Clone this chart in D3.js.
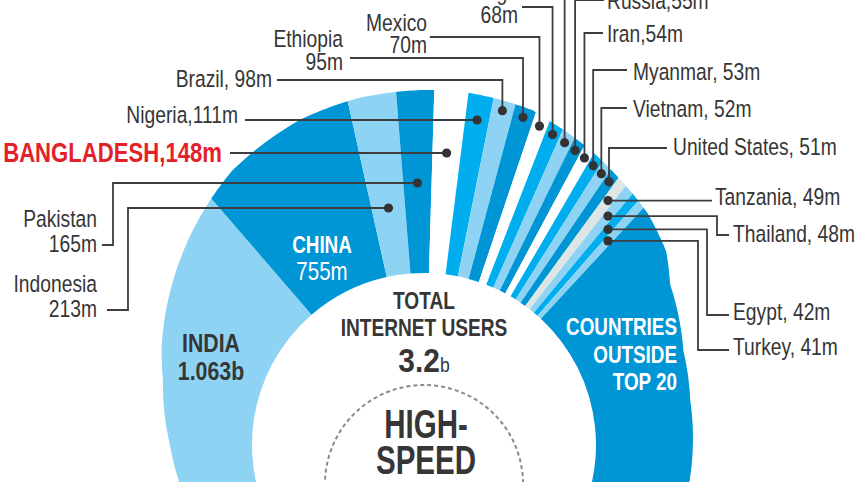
<!DOCTYPE html>
<html>
<head>
<meta charset="utf-8">
<script src="https://cdn.jsdelivr.net/npm/d3@7"></script>
<style>
  body { margin: 0; background: #fff; }
  svg { display: block; }
  text { font-family: "Liberation Sans", Arial, sans-serif; }
</style>
</head>
<body>
<script>
// offline population of the top 20 countries (millions), in ring order
var countries = ["India", "China", "Indonesia", "Pakistan", "Bangladesh", "Nigeria", "Brazil", "Ethiopia",
  "Mexico", "Congo", "Philippines", "Russia", "Iran", "Myanmar", "Vietnam", "United States",
  "Tanzania", "Thailand", "Egypt", "Turkey"];
var offline = [1063, 755, 213, 165, 148, 111, 98, 95, 70, 68, 63, 55, 54, 53, 52, 51, 49, 48, 42, 41];

// label text for each country (one entry per text line)
var labelLines = [["INDIA", "1.063b"], ["CHINA", "755m"], ["Indonesia", "213m"], ["Pakistan", "165m"],
  ["BANGLADESH,148m"], ["Nigeria,111m"], ["Brazil, 98m"], ["Ethiopia", "95m"], ["Mexico", "70m"],
  ["Congo", "68m"], ["Philippines, 63m"], ["Russia,55m"], ["Iran,54m"], ["Myanmar, 53m"], ["Vietnam, 52m"],
  ["United States, 51m"], ["Tanzania, 49m"], ["Thailand, 48m"], ["Egypt, 42m"], ["Turkey, 41m"]];
var outsideLines = ["COUNTRIES", "OUTSIDE", "TOP 20"];
var centreLines = ["TOTAL", "INTERNET USERS"];
var totalUsers = "3.2", totalUnit = "b";
var speedLines = ["HIGH-", "SPEED", "INTERNET"];

// colours
var light = "#8fd3f4", dark = "#0096d6", bright = "#00aeef", grey = "#dde6e5";
var sliceColors = [light, dark, light, dark, "#ffffff", bright, light, dark, "#ffffff", bright,
  light, dark, "#ffffff", bright, light, dark, grey, light, bright, light];
var outsideColor = dark;

// geometry
var W = 857, H = 482;
var cx = 424, cy = 445, r0 = 172;
var deg = Math.PI / 180;
var narrow = 0.82;   // condensed look from a normal-width font

// outer edge of the ring is not a circle: radius by angle (degrees)
var outlineDeg = [-130, -98, -90, -76, -69.5, -56.7, -43.7, -34.8, -20.9, -10.9, 0, 7.4, 17.9, 20.7, 30, 36.5, 44, 51.4, 56.8, 70, 80.4, 97.5, 130];
var outlineR   = [235, 248, 254, 269, 280, 300, 321, 335, 348, 353, 355, 355, 352, 348, 338, 330, 322, 310, 294, 276, 270, 268, 262];
var rOuter = d3.scaleLinear().domain(outlineDeg).range(outlineR).clamp(true);

// leader lines: dot found on a row (y), a column (x) or just inside the rim (r),
// then alternating horizontal / vertical runs
var leaders = [
  null, null,
  {dot: "y", at: 208, turns: [128, 310, 107], tx: 97, ty: [292, 317], anchor: "end"},
  {dot: "y", at: 183, turns: [113, 245, 102], tx: 97, ty: [227, 252], anchor: "end"},
  {dot: "y", at: 153, turns: [230], tx: 222, ty: [162], anchor: "end", hl: true},
  {dot: "y", at: 120, turns: [245], tx: 238, ty: [123], anchor: "end"},
  {dot: "r", turns: [80, 277], tx: 272, ty: [87], anchor: "end"},
  {dot: "r", turns: [58, 350], tx: 343, ty: [47, 70], anchor: "end"},
  {dot: "r", turns: [37, 430], tx: 427, ty: [31, 53], anchor: "end"},
  {dot: "r", turns: [7, 522], tx: 518, ty: [0, 23], anchor: "end"},
  {dot: "r", turns: [-4], tx: null},
  {dot: "r", turns: [0, 604], tx: 607, ty: [9], anchor: "start"},
  {dot: "r", turns: [33, 603], tx: 607, ty: [42], anchor: "start"},
  {dot: "r", turns: [70, 627], tx: 633, ty: [80], anchor: "start"},
  {dot: "r", turns: [108, 627], tx: 633, ty: [117], anchor: "start"},
  {dot: "r", turns: [148, 667], tx: 673, ty: [155], anchor: "start"},
  {dot: "x", at: 608, turns: [712], tx: 715, ty: [205], anchor: "start"},
  {dot: "x", at: 608, turns: [717, 235, 729], tx: 733, ty: [242], anchor: "start"},
  {dot: "x", at: 608, turns: [707, 315, 729], tx: 733, ty: [320], anchor: "start"},
  {dot: "x", at: 608, turns: [698, 350, 729], tx: 733, ty: [355], anchor: "start"}
];

var ink = "#363636";

var svg = d3.select("body").append("svg")
    .attr("width", W)
    .attr("height", H);

// text squeezed sideways so it reads like a condensed face
function addText(parent, x, y, s, size, weight, fill, anchor, sx) {
    return parent.append("text")
        .attr("transform", "translate(" + x + "," + y + ") scale(" + (sx || narrow) + ",1)")
        .attr("text-anchor", anchor || "start")
        .attr("font-size", size)
        .attr("font-weight", weight || "normal")
        .attr("fill", fill || ink)
        .text(s);
}

// angles: the countries between India and the rest share one linear scale,
// the two end slices run off the bottom of the picture
var cum = d3.cumsum(offline);
var total = cum[cum.length - 1];
var angle = d3.scaleLinear().domain([offline[0], total]).range([-40.8 * deg, 42.8 * deg]);
var ringStart = -125 * deg, ringEnd = 125 * deg;

var slices = countries.map(function(c, i) {
    return {name: c, value: offline[i], startAngle: i ? angle(cum[i - 1]) : ringStart,
        endAngle: angle(cum[i]), color: sliceColors[i]};
});
slices.push({name: "outside", startAngle: angle(total), endAngle: ringEnd, color: outsideColor});

var outline = d3.range(-130, 130.5, 0.5).map(function(a) { return [a * deg, rOuter(a)]; });
outline.push([0, 0]);

svg.append("defs").append("clipPath")
    .attr("id", "ring-clip")
  .append("path")
    .attr("d", d3.lineRadial()(outline) + "Z");

var ring = svg.append("g")
    .attr("transform", "translate(" + cx + "," + cy + ")");

var arc = d3.arc().innerRadius(r0).outerRadius(420);

ring.append("g")
    .attr("clip-path", "url(#ring-clip)")
  .selectAll("path")
    .data(slices)
  .enter().append("path")
    .attr("d", arc)
    .attr("fill", function(d) { return d.color; });

// leader lines + dots + labels
function dotPos(i, L) {
    var s = slices[i], a = (s.startAngle + s.endAngle) / 2;
    if (L.dot == "y") return [cx + (cy - L.at) * Math.tan(a), L.at];
    if (L.dot == "x") return [L.at, cy - (L.at - cx) / Math.tan(a)];
    var r = rOuter(a / deg) - 10;
    return [cx + r * Math.sin(a), cy - r * Math.cos(a)];
}

var lab = svg.append("g");
leaders.forEach(function(L, i) {
    if (!L) return;
    var p = dotPos(i, L);
    var pts = [p];
    var horiz = L.dot != "r";
    L.turns.forEach(function(t) {
        var last = pts[pts.length - 1];
        pts.push(horiz ? [t, last[1]] : [last[0], t]);
        horiz = !horiz;
    });
    lab.append("path")
        .attr("d", d3.line()(pts))
        .attr("fill", "none")
        .attr("stroke", "#3d3d3d")
        .attr("stroke-width", 1.8);
    lab.append("circle")
        .attr("cx", p[0])
        .attr("cy", p[1])
        .attr("r", 4.6)
        .attr("fill", "#333");
    if (L.tx == null) return;
    labelLines[i].forEach(function(s, j) {
        if (L.hl) addText(lab, L.tx, L.ty[j], s, 27, "bold", "#e42128", L.anchor);
        else addText(lab, L.tx, L.ty[j], s, 23.5, "normal", ink, L.anchor);
    });
});

// labels inside the ring
addText(svg, 211, 352, labelLines[0][0], 26, "bold", ink, "middle");
addText(svg, 211, 380, labelLines[0][1], 26, "bold", ink, "middle");
addText(svg, 322, 253, labelLines[1][0], 23, "bold", "#fff", "middle");
addText(svg, 322, 280, labelLines[1][1], 25, "normal", "#fff", "middle");

outsideLines.forEach(function(s, j) {
    addText(svg, 677, 335 + j * 27.5, s, 23, "bold", "#fff", "end");
});

// centre
centreLines.forEach(function(s, j) {
    addText(svg, cx, 309 + j * 27, s, 24.5, "bold", ink, "middle", 0.78);
});
var tot = addText(svg, cx, 372, null, 34, "bold", ink, "middle", 0.88);
tot.append("tspan").text(totalUsers);
tot.append("tspan").attr("font-size", 20).attr("font-weight", "normal").text(totalUnit);

svg.append("circle")
    .attr("cx", cx).attr("cy", 484).attr("r", 99)
    .attr("fill", "none")
    .attr("stroke", "#8a8a8a")
    .attr("stroke-width", 2)
    .attr("stroke-dasharray", "4,3");

speedLines.forEach(function(s, j) {
    addText(svg, 426, 438 + j * 36, s, 41, "bold", ink, "middle", 0.72);
});
</script>
</body>
</html>
